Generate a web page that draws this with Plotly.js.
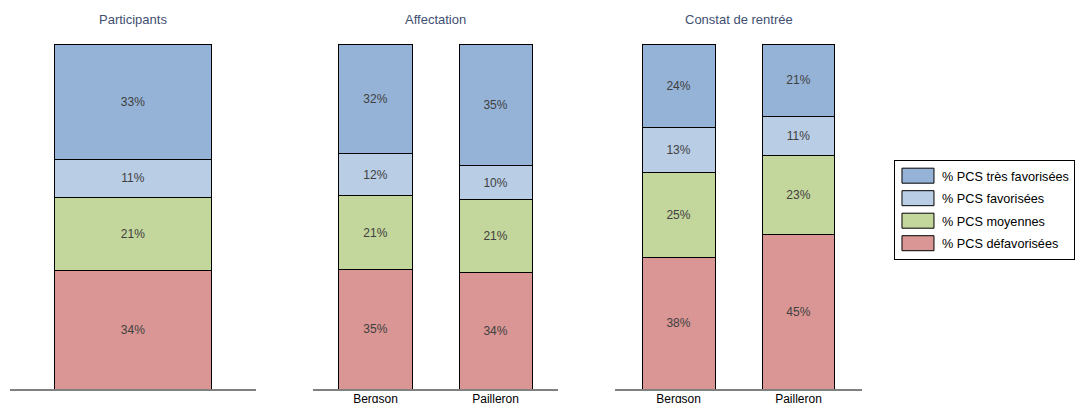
<!DOCTYPE html>
<html><head><meta charset="utf-8">
<script src="https://cdn.plot.ly/plotly-3.0.1.min.js"></script>
<style>body{margin:0;background:#fff}#c{width:1075px;height:403px}</style>
</head><body><div id="c"></div>
<script>
// Series (bottom to top of each stack)
const seriesNames = ['% PCS défavorisées', '% PCS moyennes', '% PCS favorisées', '% PCS très favorisées'];
const seriesColors = ['#d99694', '#c3d69b', '#b9cde5', '#95b3d7'];
const panelTitles = ['Participants', 'Affectation', 'Constat de rentrée'];
const participantsCats = [''];
const schoolCats = ['Bergson', 'Pailleron'];
// Values per bar, in series order
const participants = [34.4, 21.2, 11.0, 33.4];
const affBergson = [34.7, 21.3, 12.2, 31.8];
const affPailleron = [33.9, 20.9, 10.1, 35.1];
const rentBergson = [38.0, 24.9, 13.0, 24.1];
const rentPailleron = [44.8, 23.0, 11.2, 21.0];

const panels = [
  {cats: participantsCats, bars: [participants], xa: 'x', ya: 'y', width: 0.64},
  {cats: schoolCats, bars: [affBergson, affPailleron], xa: 'x2', ya: 'y2', width: 0.608},
  {cats: schoolCats, bars: [rentBergson, rentPailleron], xa: 'x3', ya: 'y3', width: 0.608}
];

const traces = [];
panels.forEach((p, pi) => {
  seriesNames.forEach((name, si) => {
    const ys = p.bars.map(b => b[si]);
    traces.push({
      type: 'bar', name: name, x: p.cats, y: ys, xaxis: p.xa, yaxis: p.ya,
      width: p.cats.map(() => p.width),
      marker: {color: seriesColors[si], line: {color: '#000', width: 1}},
      text: ys.map(v => Math.round(v) + '%'), textposition: 'inside',
      insidetextanchor: 'middle', textangle: 0,
      textfont: {color: '#404040', size: 12, family: 'Liberation Sans, Arial, sans-serif'},
      hoverinfo: 'skip', legendgroup: name, showlegend: pi === 0,
      legendrank: 1000 - si * 10
    });
  });
});

const xBase = {type: 'category', showgrid: false, zeroline: false, showline: true,
  linecolor: '#808080', linewidth: 1.5, ticks: '', tickfont: {size: 12, color: '#000'},
  ticklabelstandoff: -2, fixedrange: true};
const yBase = {range: [0, 100], visible: false, showgrid: false, zeroline: false, fixedrange: true};
const doms = [[0.0093, 0.2381], [0.2912, 0.5191], [0.5721, 0.8019]];

const annotations = panelTitles.map((t, i) => ({
  text: t, xref: 'paper', yref: 'paper', x: (doms[i][0] + doms[i][1]) / 2, y: 1 + 24 / 345,
  xanchor: 'center', yanchor: 'middle', showarrow: false,
  font: {size: 13, color: '#3f4f72', family: 'Liberation Sans, Arial, sans-serif'}
}));

const layout = {
  width: 1075, height: 403,
  margin: {l: 0, r: 0, t: 44, b: 14},
  paper_bgcolor: '#fff', plot_bgcolor: '#fff',
  font: {family: 'Liberation Sans, Arial, sans-serif', size: 12, color: '#000'},
  barmode: 'stack',
  xaxis: Object.assign({}, xBase, {domain: doms[0], anchor: 'y', showticklabels: false}),
  xaxis2: Object.assign({}, xBase, {domain: doms[1], anchor: 'y2', range: [-0.52, 1.52]}),
  xaxis3: Object.assign({}, xBase, {domain: doms[2], anchor: 'y3', range: [-0.53, 1.53]}),
  yaxis: Object.assign({}, yBase, {anchor: 'x'}),
  yaxis2: Object.assign({}, yBase, {anchor: 'x2'}),
  yaxis3: Object.assign({}, yBase, {anchor: 'x3'}),
  legend: {x: 0.8316, y: 0.664, xanchor: 'left', yanchor: 'top', traceorder: 'grouped',
    bordercolor: '#000', borderwidth: 1, bgcolor: '#fff', font: {size: 12.7, color: '#000'},
    itemwidth: 37, tracegroupgap: 3},
  annotations: annotations,
  showlegend: true
};

Plotly.newPlot('c', traces, layout, {displayModeBar: false, staticPlot: true}).then(gd => {
  // enlarge legend swatches to match the reference's wide boxes
  gd.querySelectorAll('.legend .legendpoints path').forEach(p => {
    p.setAttribute('d', 'M15.5,7.5H-16.5V-7.5H15.5Z');
  });
});
</script>
</body></html>
